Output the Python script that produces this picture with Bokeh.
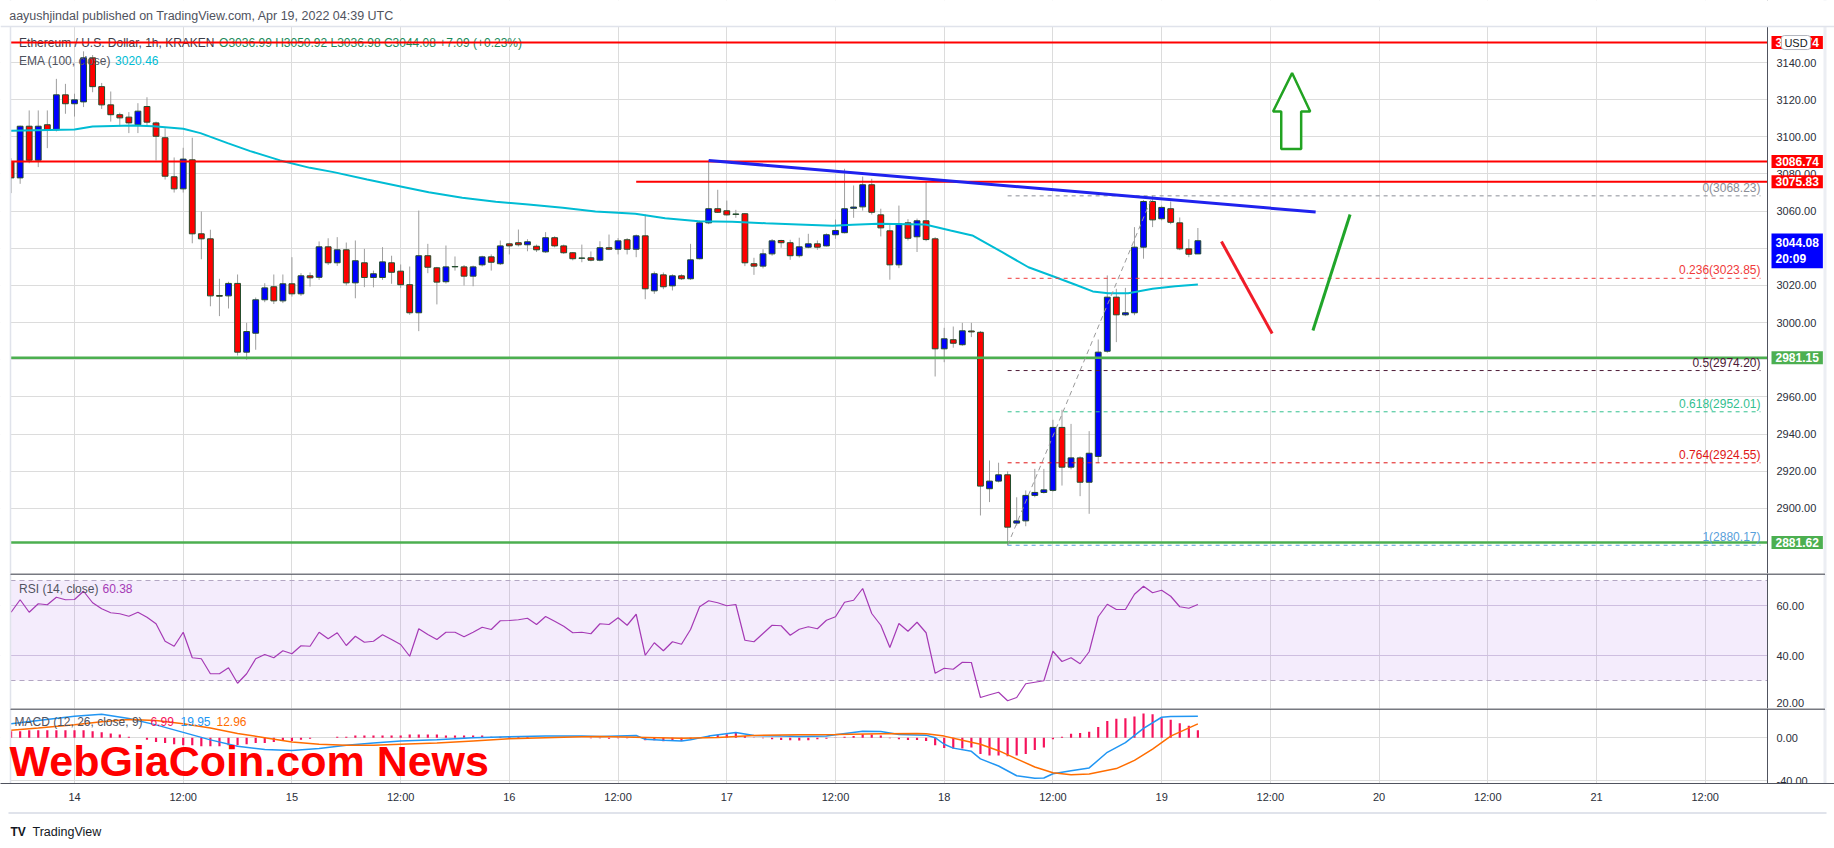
from bokeh.plotting import figure
from bokeh.layouts import column
from bokeh.models import Label, FixedTicker, PrintfTickFormatter, Range1d, Span, BoxAnnotation
from bokeh.embed import file_html
from bokeh.resources import INLINE
from bokeh.core.properties import value

# ---------------- data (hours since Apr 14 00:00 UTC, 1h candles) ----------------
hours = list(range(-7, 125))
opens = [3086.7, 3077.9, 3105.7, 3087.4, 3106.5, 3103.8, 3122.6, 3117.8, 3118.8, 3142.5,
 3127.0, 3117.2, 3111.9, 3110.6, 3106.5, 3116.3, 3107.5, 3099.5, 3078.5, 3072.0,
 3087.6, 3047.8, 3045.1, 3014.6, 3014.4, 3021.1, 2984.1, 2994.3, 3012.3, 3019.3,
 3011.7, 3020.9, 3015.5, 3025.2, 3024.4, 3040.8, 3032.2, 3039.2, 3021.4, 3032.2,
 3024.3, 3024.3, 3032.2, 3027.7, 3020.4, 3005.3, 3036.0, 3029.5, 3022.0, 3030.0,
 3030.0, 3025.0, 3031.1, 3035.4, 3031.7, 3042.4, 3043.0, 3041.9, 3041.1, 3038.1,
 3045.7, 3041.3, 3037.6, 3034.6, 3034.9, 3033.6, 3040.3, 3039.5, 3044.6, 3039.5,
 3046.7, 3017.1, 3025.7, 3019.8, 3025.2, 3023.6, 3034.4, 3053.7, 3061.3, 3060.2,
 3058.2, 3058.6, 3031.7, 3030.4, 3037.0, 3044.2, 3043.0, 3036.0, 3040.6, 3042.4,
 3041.3, 3047.3, 3048.4, 3061.5, 3062.3, 3074.2, 3058.0, 3049.4, 3031.1, 3053.7,
 3046.2, 3054.8, 3045.1, 2985.9, 2990.8, 2988.1, 2995.5, 2994.8, 2910.6, 2914.7,
 2918.1, 2892.1, 2893.3, 2907.0, 2908.6, 2909.7, 2943.6, 2922.2, 2927.2, 2914.1,
 2928.0, 2984.6, 3013.7, 3004.2, 3005.3, 3040.6, 3065.2, 3055.9, 3061.3, 3053.7,
 3039.7, 3036.99]
highs = [3088.5, 3106.0, 3114.2, 3114.2, 3114.2, 3131.2, 3128.5, 3123.2, 3146.0, 3144.0,
 3129.0, 3124.4, 3113.0, 3113.3, 3118.1, 3121.3, 3108.2, 3104.6, 3088.9, 3094.1,
 3099.5, 3059.8, 3050.0, 3023.6, 3022.0, 3025.9, 2999.9, 3013.5, 3021.2, 3025.9,
 3025.9, 3035.2, 3026.6, 3027.0, 3043.7, 3045.4, 3046.0, 3043.1, 3044.2, 3039.7,
 3028.0, 3040.6, 3036.0, 3031.3, 3030.2, 3060.3, 3042.4, 3030.0, 3041.5, 3035.6,
 3031.0, 3030.7, 3036.0, 3036.7, 3044.2, 3043.0, 3050.1, 3044.9, 3042.0, 3048.7,
 3046.5, 3042.0, 3038.0, 3042.0, 3038.3, 3043.8, 3047.4, 3045.5, 3045.5, 3047.4,
 3058.2, 3027.5, 3027.0, 3026.0, 3026.0, 3042.4, 3055.0, 3087.3, 3071.5, 3065.7,
 3060.7, 3059.0, 3034.9, 3039.5, 3045.0, 3044.6, 3044.6, 3045.7, 3047.8, 3044.2,
 3048.0, 3055.5, 3082.8, 3073.8, 3078.6, 3077.4, 3061.3, 3053.4, 3063.0, 3055.7,
 3056.0, 3075.6, 3046.0, 2997.2, 2997.9, 2999.9, 2999.9, 2995.5, 2925.8, 2924.6,
 2920.0, 2906.0, 2909.7, 2921.3, 2921.3, 2947.7, 2953.1, 2945.5, 2928.0, 2941.6,
 2990.9, 3025.4, 3018.2, 3018.7, 3051.4, 3066.0, 3068.23, 3063.0, 3065.2, 3056.6,
 3044.9, 3050.92]
lows = [3069.7, 3074.7, 3085.8, 3083.7, 3093.9, 3102.9, 3112.4, 3110.9, 3116.0, 3124.0,
 3115.0, 3108.2, 3105.6, 3102.0, 3102.0, 3106.0, 3087.3, 3077.0, 3070.0, 3070.0,
 3042.7, 3034.1, 3008.8, 3003.5, 3007.6, 2982.3, 2980.0, 2985.4, 3011.0, 3010.0,
 3010.5, 3014.0, 3014.4, 3019.4, 3023.0, 3031.0, 3030.5, 3020.0, 3013.1, 3019.1,
 3019.0, 3023.0, 3020.9, 3018.7, 3004.2, 2995.4, 3026.6, 3009.8, 3021.0, 3028.0,
 3020.0, 3019.6, 3030.2, 3028.0, 3031.0, 3036.7, 3041.0, 3038.4, 3038.0, 3037.5,
 3040.5, 3037.0, 3033.5, 3032.5, 3033.0, 3033.0, 3039.0, 3036.7, 3036.7, 3035.2,
 3012.6, 3015.5, 3018.0, 3017.3, 3023.0, 3023.0, 3034.0, 3053.0, 3059.0, 3057.5,
 3056.4, 3030.4, 3025.7, 3029.2, 3036.0, 3040.3, 3033.8, 3035.0, 3040.0, 3039.2,
 3041.0, 3045.1, 3048.0, 3056.4, 3060.3, 3058.2, 3046.4, 3023.1, 3029.3, 3044.2,
 3038.0, 3043.8, 2971.0, 2978.7, 2986.5, 2987.5, 2992.2, 2896.2, 2903.4, 2914.0,
 2880.2, 2890.8, 2890.4, 2906.0, 2908.0, 2909.0, 2912.3, 2921.0, 2906.6, 2897.1,
 2924.7, 2983.8, 2989.5, 3003.5, 3004.0, 3034.4, 3051.4, 3055.0, 3053.0, 3039.0,
 3035.2, 3036.98]
closes = [3077.9, 3105.7, 3087.4, 3105.7, 3103.8, 3122.6, 3117.8, 3119.9, 3142.5, 3127.0,
 3117.2, 3111.9, 3110.2, 3107.5, 3113.8, 3107.9, 3100.3, 3078.8, 3072.0, 3088.0,
 3047.8, 3045.1, 3014.4, 3014.2, 3021.1, 2984.1, 2995.2, 3012.3, 3018.7, 3011.7,
 3020.9, 3015.5, 3025.2, 3024.1, 3040.8, 3032.2, 3039.2, 3021.4, 3033.3, 3024.3,
 3026.3, 3032.7, 3027.1, 3020.4, 3005.3, 3036.0, 3029.8, 3021.8, 3030.0, 3030.2,
 3025.0, 3030.0, 3035.4, 3032.5, 3041.3, 3041.3, 3041.9, 3043.5, 3039.2, 3045.7,
 3041.3, 3037.6, 3034.4, 3034.8, 3033.6, 3040.3, 3039.5, 3044.0, 3039.5, 3046.7,
 3018.2, 3026.3, 3019.3, 3025.2, 3023.6, 3033.8, 3053.7, 3061.3, 3059.4, 3058.0,
 3058.5, 3032.2, 3030.4, 3037.0, 3044.0, 3043.0, 3036.0, 3040.8, 3042.4, 3040.6,
 3047.3, 3049.6, 3061.3, 3062.2, 3074.2, 3059.4, 3051.0, 3031.1, 3053.2, 3045.4,
 3054.8, 3044.7, 2985.9, 2991.3, 2988.9, 2995.6, 2995.0, 2912.0, 2914.7, 2918.1,
 2889.9, 2893.3, 2907.0, 2908.6, 2910.0, 2943.6, 2922.2, 2927.2, 2914.1, 2929.7,
 2984.1, 3013.7, 3004.2, 3005.3, 3040.6, 3065.2, 3055.3, 3062.0, 3054.0, 3039.7,
 3036.8, 3044.08]

ema_hours = [-7, 0, 2, 6.5, 8.7, 12, 13.9, 16.9, 19.4, 22.7, 26, 28.6, 32.3, 36, 39.1, 42.8,
 46.5, 50.1, 53.9, 57.5, 61.9, 65.2, 68.9, 72.6, 76.3, 79.9, 83.7, 85.9, 88.7, 93.9, 96.7,
 99.1, 102.4, 105.3, 108.3, 110.5, 112.4, 114.1, 116.3, 119, 121.5, 124]
ema_vals = [3103.2, 3103.9, 3105.6, 3106.1, 3105.7, 3104.3, 3102.0, 3096.6, 3092.3, 3087.3,
 3083.3, 3081.0, 3077.0, 3073.3, 3070.2, 3067.2, 3065.0, 3063.6, 3061.8, 3059.8, 3058.6,
 3056.2, 3054.6, 3054.3, 3053.5, 3052.8, 3052.1, 3052.7, 3053.2, 3052.8, 3049.6, 3046.9,
 3037.9, 3029.8, 3024.4, 3020.4, 3016.8, 3015.8, 3015.8, 3018.2, 3019.6, 3020.46]

rsi_vals = [57.3, 62.3, 57.3, 60.7, 60.3, 63.3, 62.3, 62.4, 65.7, 61.1,
 58.7, 57.1, 56.7, 55.7, 57.3, 55.3, 52.7, 45.7, 43.7, 49.3,
 39.1, 38.7, 32.7, 32.7, 35.1, 28.9, 32.7, 38.7, 40.4, 39.1,
 41.9, 40.7, 43.9, 43.7, 49.3, 46.7, 49.1, 44.0, 47.7, 45.3,
 45.7, 48.3, 46.4, 44.4, 39.7, 50.7, 48.4, 46.4, 49.3, 49.3,
 47.5, 49.3, 51.3, 50.4, 53.9, 54.0, 54.3, 54.9, 52.4, 55.6,
 53.7, 51.7, 49.1, 49.3, 48.7, 52.7, 52.4, 55.1,
 52.1, 56.5, 40.1, 45.1, 41.9, 45.5, 44.5, 50.4, 59.5, 61.9,
 61.1, 59.9, 60.4, 46.1, 45.5, 48.8, 52.1, 51.9, 48.1, 50.5,
 51.5, 50.7, 54.1, 55.5, 61.3, 62.1, 66.8, 56.8, 52.1, 43.2,
 52.8, 49.7, 53.3, 49.1, 32.9, 34.9, 34.5, 37.3, 37.2, 23.2,
 24.3, 25.3, 21.9, 23.2, 28.7, 29.3, 29.9, 41.7, 37.6, 39.1,
 36.7, 41.5, 55.5, 60.5, 58.4, 58.4, 64.5, 67.7, 65.1, 66.1,
 63.7, 59.5, 58.9, 60.38]

macd_hours = [-7, -4, 0, 3, 6, 9, 12, 15, 18, 21, 24, 27, 30, 33, 36, 40, 44, 48, 52, 56,
 58, 62, 63, 65, 67, 68, 70, 73, 75, 78, 80, 83, 84, 87, 89, 91, 94, 95, 96, 97,
 99, 100, 102, 104, 106, 107, 108, 110, 112, 114, 116, 118, 120, 121, 124]
macd_vals = [13, 16, 20, 22, 18, 12, 5, -2, -8, -11, -12, -10, -7, -5, -3, -2, 0, 1, 1.5, 1.5,
 1.2, 2.1, -1.5, -2.4, -3.0, -1.8, 1.5, 4.8, 2.1, 1.5, 1.2, 1.5, 2.8, 6.1, 5.8, 3.0, 2.4, 0, -6.1, -9.7,
 -12.7, -19.7, -26.4, -35.5, -37.9, -37.6, -33.6, -30.9, -28.2, -13.6, -4.5, 8.8, 19.1, 19.7, 19.95]
signal_hours = [-7, -4, 0, 3, 6, 9, 12, 15, 18, 21, 24, 27, 30, 33, 36, 40, 44, 48, 52, 56,
 58, 67, 71, 75, 80, 84, 89, 93, 94, 96, 98, 100, 102, 104, 106, 108, 110, 112, 115, 117,
 119, 121, 124]
signal_vals = [7, 9, 12, 15, 17, 16, 13, 9, 4, 0, -4, -6, -7, -7, -6, -5, -3, -1, 0, 1,
 1.2, -0.6, 0.3, 2.1, 2.7, 3.0, 3.6, 3.9, 3.6, 1.5, -2.4, -6.1, -12.1, -19.7, -27.3, -32.7, -34.5, -33.9, -28.8, -21.2,
 -10.6, 1.5, 12.96]
hist_vals = [6, 6, 7, 7, 7, 7, 7,
 7, 7, 6, 5, 4, 3, 1,
 0, -2, -4, -5, -6, -7, -7,
 -8, -8, -8, -7, -7, -6, -5,
 -5, -4, -3, -3, -2, -1, 0,
 0, 1, 1, 2, 2, 2, 2,
 2, 2, 3, 3, 3, 3, 2,
 2, 2, 2, 2, 1, 1, 1,
 1, 1, 0, 0, 0, 0, 0, 0, -0.5,
 -0.5, -0.9, -0.6, -0.6, 0.6, -2.4, -2.4, -3.3, -3.0, -3.0, -1.5, 0, 1.5, 2.7, 3.3, 4.5, 1.5,
 -0.3, -0.6, -1.5, -2.1, -2.4, -2.7, -2.4, -1.5, -0.9, 0.3, 0.9, 1.5, 3.3, 3.0, 2.1, -0.6,
 -1.5, -2.1, -2.1, -3.0,
 -7.0, -9.7, -10.0, -10.0, -9.1, -15.2, -16.7, -16.7, -17.3, -16.7, -15.2, -11.5, -9.1, -1.5,
 0.9, 3.6, 4.5, 5.5, 10.0, 15.5, 17.6, 18.2, 19.7, 22.7, 21.8, 18.2, 16.7, 13.6, 11.2, 6.99]

# horizontal support / resistance levels
red_full_levels = [3150.74, 3086.74]
red_short_level = 3075.83
red_short_start = 62.0
green_levels = [2981.15, 2881.62]

# fibonacci retracement
fib_ratios = ["0", "0.236", "0.5", "0.618", "0.764", "1"]
fib_levels = [3068.23, 3023.85, 2974.20, 2952.01, 2924.55, 2880.17]
fib_colors = ["#8a8d96", "#f03a3a", "#4d1a36", "#33c08f", "#e01515", "#58a0da"]
fib_start, fib_end = 103, 186.1
fib_diag_hours = [103, 119]
fib_diag_prices = [2880.17, 3068.23]

# drawn lines
trend_hours = [70, 137]
trend_prices = [3087.3, 3059.5]
down_hours = [126.6, 132.2]
down_prices = [3043.7, 2994.1]
up_hours = [136.7, 140.8]
up_prices = [2995.8, 3058.2]
arrow_hours = [134.4, 136.4, 135.4, 135.4, 133.2, 133.2, 132.3]
arrow_prices = [3134.3, 3113.6, 3113.6, 3093.4, 3093.4, 3113.6, 3113.6]

price_ticks = [2900, 2920, 2940, 2960, 2980, 3000, 3020, 3040, 3060, 3080, 3100, 3120, 3140]
rsi_ticks = [21.0, 40, 60]
rsi_tick_labels = ["20.00", "40.00", "60.00"]
time_ticks = [0, 12, 24, 36, 48, 60, 72, 84, 96, 108, 120, 132, 144, 156, 168, 180]
time_labels = ["14", "12:00", "15", "12:00", "16", "12:00", "17", "12:00", "18", "12:00",
               "19", "12:00", "20", "12:00", "21", "12:00"]

# ---------------- layout geometry (page pixels -> axis units) ----------------
FONT = "Liberation Sans"
W = 1834
GRID = "#dcdcdc"
AXC = "#50535e"


def hx(px):
    return (px - 74.0) / 9.0595


def pv(py):
    return 3140 - (py - 62.0) / 1.858


XR = Range1d(hx(0), hx(W))
PANE_L, AXIS_X, BORDER_R = hx(10), hx(1767), hx(1824.5)


def make_fig(height, yr, bottom=0, xaxis=False):
    f = figure(width=W, height=height, x_range=XR, y_range=yr, output_backend="svg",
               toolbar_location=None, x_axis_location=("below" if xaxis else None),
               y_axis_location="right", min_border=0, min_border_left=0, min_border_right=0,
               min_border_top=0, min_border_bottom=bottom)
    f.outline_line_color = None
    f.background_fill_color = "white"
    f.border_fill_color = "white"
    ya = f.yaxis[0]
    ya.fixed_location = AXIS_X
    ya.major_tick_out = 0
    ya.major_tick_in = 0
    ya.minor_tick_out = 0
    ya.minor_tick_in = 0
    ya.axis_line_color = AXC
    ya.major_label_standoff = 9
    ya.major_label_text_font = FONT
    ya.major_label_text_font_size = "11px"
    ya.major_label_text_color = "#2a2e39"
    ya.formatter = PrintfTickFormatter(format="%.2f")
    f.xgrid.ticker = FixedTicker(ticks=time_ticks)
    f.xgrid.grid_line_color = GRID
    f.ygrid.grid_line_color = GRID
    return f


def covers(f, ylo, yhi):
    f.quad(left=[XR.start - 1], right=[PANE_L], bottom=[ylo], top=[yhi], fill_color="white", line_color=None)
    f.quad(left=[AXIS_X], right=[XR.end + 1], bottom=[ylo], top=[yhi], fill_color="white", line_color=None)
    f.segment(x0=[PANE_L], y0=[ylo], x1=[PANE_L], y1=[yhi], line_color="#e0e3eb", line_width=1.5)
    f.segment(x0=[BORDER_R], y0=[ylo], x1=[BORDER_R], y1=[yhi], line_color="#eceef3", line_width=3)


def lab(f, x, y, text, color, size="12px", bold=False, xu="screen", yu="screen", **kw):
    l = Label(x=x, y=y, x_units=xu, y_units=yu, text=text, text_color=color,
              text_font=FONT, text_font_size=size, text_font_style=("bold" if bold else "normal"),
              text_baseline=kw.pop("baseline", "middle"), text_align=kw.pop("align", "left"), **kw)
    f.add_layout(l)
    return l


# ================= price pane (page y 0..573) =================
PY_TOP, PY_BOT = pv(0), pv(573)
p = make_fig(573, Range1d(PY_BOT, PY_TOP))
p.yaxis.ticker = FixedTicker(ticks=price_ticks)
p.ygrid.ticker = FixedTicker(ticks=price_ticks)

body_top = [max(o, c) for o, c in zip(opens, closes)]
body_bot = [min(o, c) for o, c in zip(opens, closes)]
body_col = ["#0000ff" if c >= o else "#ff0000" for o, c in zip(opens, closes)]
p.segment(hours, lows, hours, highs, line_color="#9e9e9e", line_width=1)
p.vbar(x=hours, width=0.64, top=body_top, bottom=body_bot, fill_color=body_col,
       line_color="#234d2c", line_width=1)
p.line(ema_hours, ema_vals, line_color="#00bcd4", line_width=2)

n_red = len(red_full_levels)
p.segment(x0=[PANE_L] * n_red, y0=red_full_levels, x1=[AXIS_X] * n_red, y1=red_full_levels,
          line_color="#ff0000", line_width=2)
p.segment(x0=[red_short_start], y0=[red_short_level], x1=[AXIS_X], y1=[red_short_level],
          line_color="#ff0000", line_width=2)
n_gr = len(green_levels)
p.segment(x0=[PANE_L] * n_gr, y0=green_levels, x1=[AXIS_X] * n_gr, y1=green_levels,
          line_color="#4caf50", line_width=2.5)

n_f = len(fib_levels)
p.segment(x0=[fib_start] * n_f, y0=fib_levels, x1=[fib_end] * n_f, y1=fib_levels,
          line_color=fib_colors, line_width=1, line_dash="4 4")
p.line(fib_diag_hours, fib_diag_prices, line_color="#9a9a9a", line_width=1, line_dash="5 4")
p.text(x=[fib_end] * n_f, y=fib_levels,
       text=[f"{r}({v:.2f})" for r, v in zip(fib_ratios, fib_levels)],
       text_color=fib_colors, text_font=value(FONT), text_font_size="12px",
       text_align="right", text_baseline="bottom", y_offset=-1)

p.line(trend_hours, trend_prices, line_color="#1f22ee", line_width=3)
p.line(down_hours, down_prices, line_color="#f01c28", line_width=3)
p.line(up_hours, up_prices, line_color="#20a52a", line_width=3)
p.patch(arrow_hours, arrow_prices, fill_color="white", line_color="#22a322", line_width=2.5)

covers(p, PY_BOT - 5, PY_TOP + 5)

# header strip above the pane
p.add_layout(BoxAnnotation(bottom=pv(26), fill_color="white", fill_alpha=1.0, line_color=None))
p.add_layout(Span(location=pv(26), dimension="width", line_color="#e0e3eb", line_width=1.5))
lab(p, 8.7, 558, "aayushjindal published on TradingView.com, Apr 19, 2022 04:39 UTC", "#50535e", size="12.5px")
lab(p, 18.6, 530.3, "Ethereum / U.S. Dollar, 1h, KRAKEN", "#3a3d48", level="underlay")
lab(p, 218.6, 530.3, "O3036.99  H3050.92  L3036.98  C3044.08  +7.09 (+0.23%)", "#1b8a5a", level="underlay")
lab(p, 18.6, 513, "EMA (100, close)", "#50535e")
lab(p, 114.6, 513, "3020.46", "#00bcd4")

# price boxes on the axis
for lv, col in [(3150.74, "#ff0000"), (3086.74, "#ff0000"), (3075.83, "#ff0000"),
                (2981.15, "#4caf50"), (2881.62, "#4caf50")]:
    lab(p, 1771, lv, f"{lv:.2f}", "white", size="12px", bold=True, yu="data",
        background_fill_color=col, padding=(4, 2))
lab(p, 1771, 573 - 233, f"{closes[-1]:.2f}\n20:09", "white", size="12px", bold=True,
    baseline="top", background_fill_color="#0000ff", padding=(4, 2))
lab(p, 1795.5, 3150.74, "USD", "#131722", size="11px", yu="data", align="center",
    background_fill_color="white", border_line_color="#b2b5be", padding=(3, 1), border_radius=3)

# ================= RSI pane (page y 573..708) =================
def rv(py):
    return 60 - (py - 605.0) / 2.5


r = make_fig(135, Range1d(rv(708), rv(573)))
r.yaxis.ticker = FixedTicker(ticks=rsi_ticks)
r.yaxis.major_label_overrides = {t: s for t, s in zip(rsi_ticks, rsi_tick_labels)}
r.ygrid.ticker = FixedTicker(ticks=[40, 60])
r.ygrid.grid_line_color = "#d5cce0"
r.add_layout(BoxAnnotation(bottom=30, top=70, left=PANE_L, right=AXIS_X, fill_color="#9c4fe0",
                           fill_alpha=0.11, line_color=None, level="underlay"))
r.segment(x0=[PANE_L, PANE_L], y0=[70, 30], x1=[AXIS_X, AXIS_X], y1=[70, 30],
          line_color="#b3a6c3", line_width=1, line_dash="5 4")
r.line(hours, rsi_vals, line_color="#a53ab5", line_width=1.2)
covers(r, rv(708) - 5, rv(573) + 5)
r.segment(x0=[PANE_L], y0=[rv(573.6)], x1=[BORDER_R], y1=[rv(573.6)], line_color="#4a4d57", line_width=1.5)
lab(r, 18.6, 120, "RSI (14, close)", "#50535e")
lab(r, 102, 120, "60.38", "#a53ab5")

# ================= MACD pane (page y 708..785) + time axis =================
def mv(py):
    return (738.0 - py) / 1.1


m = make_fig(97, Range1d(mv(785), mv(708)), bottom=0, xaxis=True)
m.yaxis.ticker = FixedTicker(ticks=[-40, 0])
m.ygrid.ticker = FixedTicker(ticks=[-40, 0])
xa = m.xaxis[0]
xa.ticker = FixedTicker(ticks=time_ticks)
xa.major_label_overrides = {t: s for t, s in zip(time_ticks, time_labels)}
xa.major_tick_out = 0
xa.major_tick_in = 0
xa.minor_tick_out = 0
xa.minor_tick_in = 0
xa.axis_line_color = AXC
xa.major_label_standoff = 7
xa.major_label_text_font = FONT
xa.major_label_text_font_size = "11px"
xa.major_label_text_color = "#2a2e39"

m.vbar(x=hours, width=0.24, top=hist_vals, bottom=0, fill_color="#f5135c", line_color=None)
m.line(macd_hours, macd_vals, line_color="#2196f3", line_width=1.5)
m.line(signal_hours, signal_vals, line_color="#ff6d00", line_width=1.5)
covers(m, mv(785) - 5, mv(708) + 5)
m.segment(x0=[PANE_L], y0=[mv(708.6)], x1=[BORDER_R], y1=[mv(708.6)], line_color="#4a4d57", line_width=1.5)
lab(m, 14, 62, "MACD (12, 26, close, 9)", "#50535e")
lab(m, 150, 62, "6.99", "#f5135c")
lab(m, 180, 62, "19.95", "#2196f3")
lab(m, 216, 62, "12.96", "#ff6d00")
lab(m, 9, 23, "WebGiaCoin.com News", "#ff0000", size="43px", bold=True)

# ================= footer =================
FOOT_H = 848 - 573 - 135 - 97
ft = figure(width=W, height=FOOT_H, x_range=Range1d(0, W), y_range=Range1d(0, FOOT_H),
            output_backend="svg", toolbar_location=None, x_axis_location=None, y_axis_location=None,
            min_border=0, min_border_left=0, min_border_right=0, min_border_top=0, min_border_bottom=0)
ft.outline_line_color = None
ft.xgrid.visible = False
ft.ygrid.visible = False
ft.segment(x0=[8], y0=[848 - 812.5], x1=[1826], y1=[848 - 812.5], line_color="#e0e3eb", line_width=2)
lab(ft, 10, 848 - 831.7, "TV", "#131722", size="12px", bold=True)
lab(ft, 32, 848 - 831.7, "TradingView", "#131722", size="12.5px")

layout = column(p, r, m, ft, spacing=0)
open("out.html", "w").write(file_html(layout, INLINE))
